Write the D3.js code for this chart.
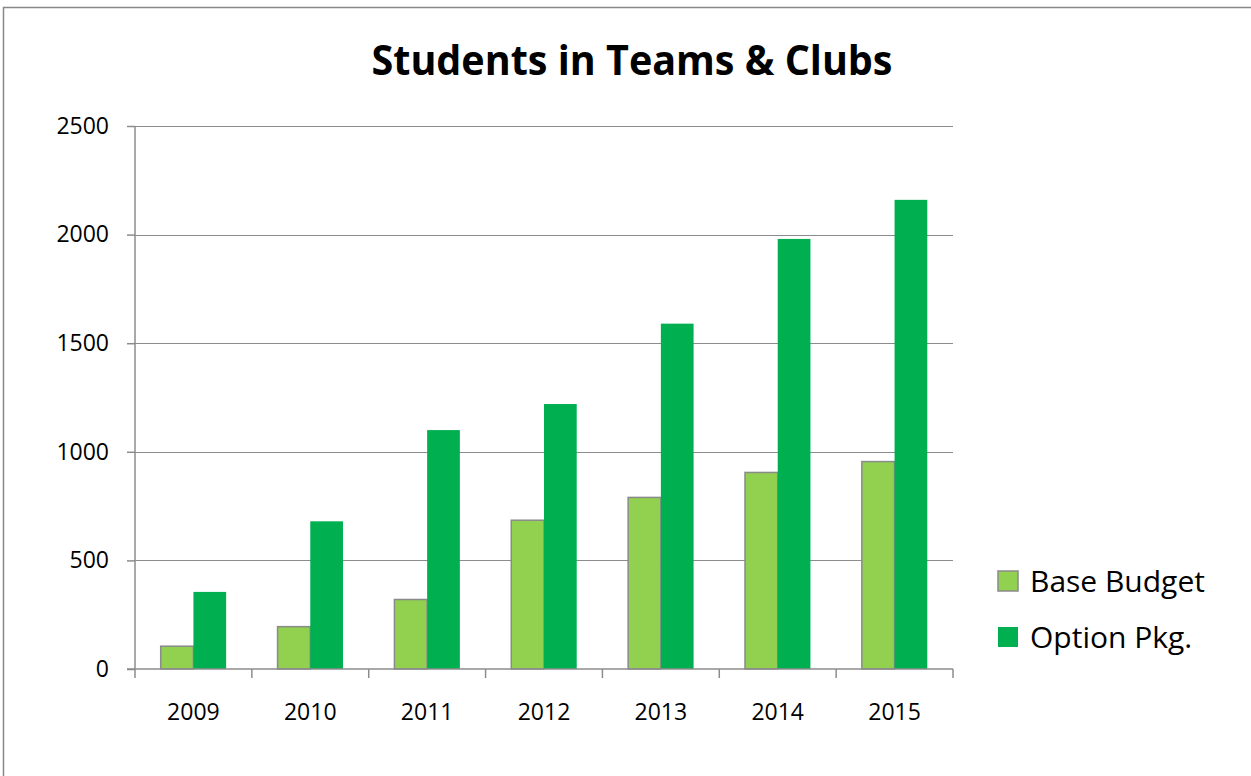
<!DOCTYPE html>
<html>
<head>
<meta charset="utf-8">
<script src="https://cdn.jsdelivr.net/npm/d3@7"></script>
<style>
  body { margin: 0; background: #fff; }
  text { font-family: "Open Sans", "Noto Sans", sans-serif; fill: #000; }
</style>
</head>
<body>
<div id="container"></div>
<script>
/* DATA */
const years = ["2009", "2010", "2011", "2012", "2013", "2014", "2015"];
const seriesNames = ["Base Budget", "Option Pkg."];
const baseBudget = [105, 195, 320, 685, 790, 905, 955];
const optionPkg = [355, 680, 1100, 1220, 1590, 1980, 2160];
const yTicks = [0, 500, 1000, 1500, 2000, 2500];

/* CONSTANTS */
const width = 1251,
  height = 776,
  plotLeft = 135, plotRight = 953,
  plotTop = 126, plotBottom = 669;
const colors = ["#92D050", "#00B050"];

const data = years.map((y, i) => ({ year: y, values: [baseBudget[i], optionPkg[i]] }));

const svg = d3.select("#container")
  .append("svg")
  .attr("width", width)
  .attr("height", height);

// outer frame
svg.append("path")
  .attr("d", `M3.5,${height} V7.5 H${width}`)
  .attr("fill", "none")
  .attr("stroke", "#888")
  .attr("stroke-width", 1.5);

/* SCALES */
const xScale = d3.scaleBand()
  .domain(years)
  .range([plotLeft, plotRight])
  .paddingInner(0)
  .paddingOuter(0);

const groupPad = 0.22;
const xInner = d3.scaleBand()
  .domain([0, 1])
  .range([xScale.bandwidth() * groupPad, xScale.bandwidth() * (1 - groupPad)]);

const yScale = d3.scaleLinear()
  .domain([0, 2500])
  .range([plotBottom, plotTop]);

// gridlines
svg.append("g")
  .selectAll("line")
  .data(yTicks.filter(d => d > 0))
  .join("line")
  .attr("x1", plotLeft).attr("x2", plotRight)
  .attr("y1", d => Math.round(yScale(d)) + 0.5)
  .attr("y2", d => Math.round(yScale(d)) + 0.5)
  .attr("stroke", "#8c8c8c")
  .attr("stroke-width", 1.2);

/* BARS */
svg.append("g")
  .selectAll("g")
  .data(data)
  .join("g")
  .attr("transform", d => `translate(${xScale(d.year)},0)`)
  .selectAll("rect")
  .data(d => d.values.map((v, i) => ({ v, i })))
  .join("rect")
  .attr("x", d => xInner(d.i))
  .attr("width", xInner.bandwidth())
  .attr("y", d => yScale(d.v))
  .attr("height", d => plotBottom - yScale(d.v))
  .attr("fill", d => colors[d.i])
  .attr("stroke", d => d.i === 0 ? "#8a8a8a" : "none")
  .attr("stroke-width", 1.5);

/* AXES */
const yAxis = svg.append("g")
  .attr("transform", `translate(${plotLeft},0)`)
  .call(d3.axisLeft(yScale).tickValues(yTicks).tickSize(8).tickPadding(18).tickFormat(d3.format("d")));
yAxis.selectAll("line, path").attr("stroke", "#8c8c8c").attr("stroke-width", 1.5);
yAxis.select(".domain").attr("d", `M0,${plotTop}V${plotBottom}`);
yAxis.selectAll("text").style("font-size", "23px").attr("fill", "#222").attr("font-family", "Open Sans, sans-serif");

const xAxis = svg.append("g")
  .attr("transform", `translate(0,${plotBottom})`);
xAxis.append("line")
  .attr("x1", plotLeft - 8).attr("x2", plotRight)
  .attr("stroke", "#8c8c8c").attr("stroke-width", 1.5);
xAxis.selectAll(".tick")
  .data(years.map(y => xScale(y)).concat([plotRight]))
  .join("line")
  .attr("class", "tick")
  .attr("x1", d => d).attr("x2", d => d)
  .attr("y1", 0).attr("y2", 9)
  .attr("stroke", "#8c8c8c").attr("stroke-width", 1.5);
xAxis.selectAll(".label")
  .data(years)
  .join("text")
  .attr("class", "label")
  .attr("x", d => xScale(d) + xScale.bandwidth() / 2)
  .attr("y", 51)
  .attr("text-anchor", "middle")
  .style("font-size", "23px")
  .attr("fill", "#222")
  .text(d => d);

/* TITLE */
svg.append("text")
  .attr("x", 632)
  .attr("y", 75)
  .attr("text-anchor", "middle")
  .attr("textLength", 521)
  .attr("lengthAdjust", "spacingAndGlyphs")
  .style("font-size", "41px")
  .style("font-weight", "bold")
  .text("Students in Teams & Clubs");

/* LEGEND */
const legend = svg.append("g")
  .attr("transform", "translate(998,571)")
  .selectAll("g")
  .data(seriesNames)
  .join("g")
  .attr("transform", (d, i) => `translate(0,${i * 56})`);
legend.append("rect")
  .attr("width", 20).attr("height", 20)
  .attr("fill", (d, i) => colors[i])
  .attr("stroke", (d, i) => i === 0 ? "#8a8a8a" : "none")
  .attr("stroke-width", 1.5);
legend.append("text")
  .attr("x", 32)
  .attr("y", 21)
  .style("font-size", "30px")
  .text(d => d);
</script>
</body>
</html>
